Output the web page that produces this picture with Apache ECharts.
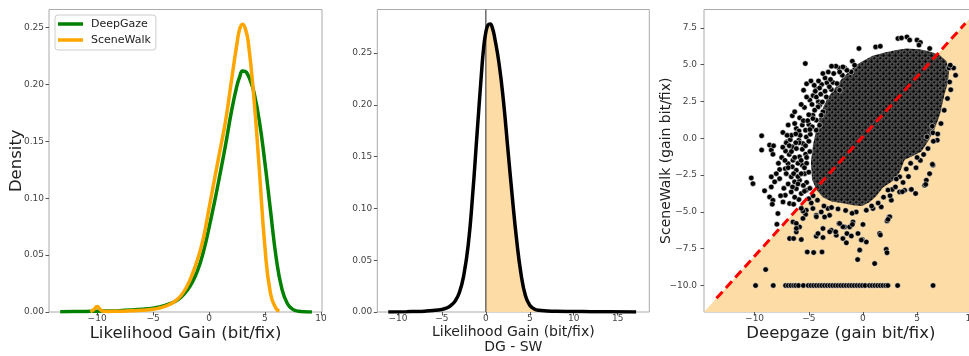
<!DOCTYPE html>
<html><head><meta charset="utf-8">
<script src="https://cdn.jsdelivr.net/npm/echarts@6/dist/echarts.min.js"></script>
<style>html,body{margin:0;padding:0;background:#fff}#c{width:969px;height:356px}</style>
</head><body><div id="c"></div>
<script>
// ---------- Panel 1: KDE of likelihood gain ----------
const dgX = [-13.3,-12,-11,-10,-9,-8,-7,-6,-5,-4.5,-4,-3.5,-3,-2.5,-2,-1.5,-1,-0.5,0,0.5,1,1.5,2,2.5,2.75,3,3.25,3.5,3.75,4,4.5,5,5.5,6,6.5,7,7.5,8,8.5,9.2];
const dgY = [0.0003,0.0004,0.0005,0.0007,0.0009,0.0012,0.0017,0.0024,0.0034,0.0043,0.0056,0.0073,0.0095,0.013,0.0185,0.026,0.037,0.053,0.074,0.097,0.122,0.148,0.176,0.199,0.207,0.212,0.2115,0.208,0.202,0.194,0.168,0.131,0.089,0.048,0.021,0.0075,0.0023,0.0007,0.0002,0];
const swX = [-10.6,-10.3,-10,-9.7,-9.4,-9,-8,-7,-6,-5,-4.5,-4,-3.5,-3,-2.5,-2,-1.5,-1,-0.5,0,0.5,1,1.5,2,2.5,2.75,3,3.25,3.5,4,4.5,5,5.5,6,6.3];
const swY = [0.0002,0.002,0.0048,0.002,0.0006,0.0005,0.0007,0.001,0.0015,0.0024,0.0033,0.0047,0.0068,0.0098,0.0145,0.022,0.033,0.047,0.065,0.091,0.117,0.143,0.169,0.203,0.236,0.249,0.253,0.249,0.238,0.19,0.125,0.057,0.016,0.003,0.001];
const p1XTicks = [-10,-5,0,5,10];
const p1YTicks = [0,0.05,0.1,0.15,0.2,0.25];

// ---------- Panel 2: KDE of DG - SW ----------
const diffX = [-11.1,-9,-8,-7,-6,-5,-4.5,-4,-3.5,-3,-2.5,-2,-1.5,-1,-0.5,-0.25,0,0.25,0.5,0.75,1,1.5,2,2.5,3,3.5,4,4.5,5,5.5,6,7,8,10,12,14,17.1];
const diffY = [0,0.0003,0.0005,0.0008,0.0014,0.0025,0.0037,0.0062,0.0105,0.019,0.036,0.065,0.113,0.172,0.23,0.255,0.27,0.277,0.278,0.274,0.265,0.24,0.204,0.158,0.112,0.07,0.037,0.016,0.0065,0.003,0.0016,0.001,0.0007,0.0005,0.0003,0.0002,0];
const p2XTicks = [-10,-5,0,5,10,15];
const p2YTicks = [0,0.05,0.1,0.15,0.2,0.25];
const zeroLineX = 0;

// ---------- Panel 3: scatter DeepGaze vs SceneWalk ----------
const p3XLim = [-14.67, 10.6];
const p3YLim = [-11.8, 8.75];
const diagX = [-13.52, 9.45];
const diagY = [-10.87, 7.81];
const p3XTicks = [-10,-5,0,5,10];
const p3YTicks = [-10,-7.5,-5,-2.5,0,2.5,5,7.5];
// outline of the densely packed core of the scatter cloud (DG, SW)
const coreX = [-3.3,-2.6,-1.9,-1.2,-0.6,0,0.9,2.1,3.1,4.0,5.2,6.2,7.1,7.7,7.95,7.85,7.5,7.1,6.6,6.1,5.4,4.6,3.85,3.4,2.75,1.85,1.2,0.6,-0.1,-0.9,-2.0,-2.9,-3.7,-4.3,-4.7,-4.8,-4.6,-4.3,-3.9];
const coreY = [2.7,3.4,4.1,4.6,5.0,5.25,5.6,5.85,6.0,6.1,6.05,5.9,5.65,5.25,4.6,3.8,2.9,1.6,0.6,-0.1,-0.9,-1.2,-1.45,-2.3,-2.9,-3.35,-3.95,-4.35,-4.6,-4.55,-4.4,-4.3,-4.0,-3.5,-2.8,-1.6,-0.4,0.6,1.7];
// individual points outside the core
const fringePts = [
[-5.32,5.08],[-5.48,3.27],[-4.30,3.34],[-3.81,3.66],[-3.32,3.77],[-2.77,3.79],[-4.0,3.42],
[-6.52,1.53],[-5.84,1.39],[-6.15,0.67],[-4.99,0.94],[-7.39,0.40],[-9.35,0.17],[-9.35,-0.80],
[-8.62,-0.46],[-8.46,-0.80],[-8.25,-0.51],[-8.31,-1.09],[-7.02,-0.24],[-7.14,-0.87],
[-4.12,2.48],[-4.0,2.25],[-4.62,1.57],[-3.69,1.8],
[-7.08,-0.31],[-6.71,-0.09],[-6.52,-0.58],[-6.15,-0.7],[-5.91,-0.13],[-5.54,-0.36],[-5.23,0.09],[-4.86,0.28],
[-5.29,-1.08],[-5.85,-1.26],[-6.46,-1.49],[-6.92,-1.72],[-7.17,-2.06],[-6.52,-1.94],[-6.15,-2.17],[-5.6,-1.83],
[-7.69,-2.12],[-8.0,-2.4],[-8.46,-2.62],[-8.15,-2.96],[-7.69,-2.74],[-7.08,-2.4],[-6.62,-2.62],[-6.31,-2.96],[-5.85,-2.85],[-5.38,-2.4],
[-10.31,-2.69],[-10.15,-3.08],[-9.08,-3.57],[-8.46,-3.3],[-8.62,-3.98],[-8.31,-4.21],[-8.37,-4.48],[-7.85,-5.11],[-7.38,-4.32],[-7.17,-3.87],[-6.62,-3.64],[-6.15,-3.42],[-5.69,-3.75],[-5.23,-3.53],
[-7.94,-5.84],[-6.77,-4.43],[-6.4,-4.48],[-5.91,-4.16],
[-6.46,-5.68],[-6.15,-6.36],[-5.85,-6.02],[-6.77,-6.81],[-6.4,-6.81],[-5.69,-6.88],[-5.14,-7.72],[-3.69,-6.74],[-4.31,-6.65],[-4.15,-6.47],[-3.69,-6.13],[-2.92,-6.25],[-2.46,-6.58],[-1.85,-6.81],[-1.48,-6.47],[-2.22,-5.79],[-1.69,-6.02],[-1.23,-6.02],[-0.92,-5.68],[-0.46,-6.47],[-0.06,-6.88],[0.31,-7.04],[-0.31,-7.6],[-0.49,-8.24],[1.08,-8.51],[1.54,-6.47],[2.22,-5.61],[2.4,-5.34],[2.15,-7.54],[-4.55,-7.76],[-3.78,-7.72],[-8.98,-8.92],
[-3.08,-5.23],[-3.54,-5.34],[-3.85,-5.0],[-3.23,-4.77],[-4.62,-4.77],[-4.31,-5.23],[-5.23,-4.89],[-4.77,-4.39],[-0.62,-5.0],[0.31,-4.89],[0.92,-4.77],[1.69,-4.66],[2.62,-4.21],[3.38,-3.64],[3.85,-3.53],[4.46,-3.48],[5.69,-3.19],[6.46,-1.83],[5.91,0.1],[6.46,0.37],[6.86,-0.13],[6.4,0.82],[4.86,-3.75],[6.15,-2.4],[5.85,-2.85],
[6.41,-1.77],[5.79,-3.13],[4.47,-3.47],[3.64,-3.63],[4.0,-2.09],[3.39,-2.62],[3.08,-2.77],[2.71,-3.47],[2.31,-3.52],[2.47,-5.33],[2.31,-5.51],[1.61,-6.57],[2.22,-7.77],[-0.3,-7.59],[-1.53,-7.1],[-1.07,-6.64],[-0.15,-6.91],[0,-5.85],[-0.98,-5.85],[-1.85,-6.01],[-2.15,-5.78],[-2.52,-6.35],[-3.07,-6.35],
[-5.29,-5.17],[-5.54,-4.94],[-5.69,-4.76],[-5.54,-5.44],[-6.15,-5.78],[-6.15,-6.12],[-4.3,-5.33],
[-0.37,6.1],[1.17,6.21],[1.6,6.25],[3.23,6.78],[3.55,6.82],[4.06,6.89],[4.31,6.67],[4.99,6.67],[5.30,6.51],[5.17,6.33],[6.16,6.1],[-2.22,4.78],[-1.69,4.78],[-1.90,4.29],[-0.98,5.24],[7.94,4.78],[8.37,4.78],[8.06,4.97],[8.55,4.28],[8.0,3.83],
[-1.08,4.51],[-0.77,4.97],[-1.48,4.62],[-1.85,4.85],[-2.15,4.51],[-2.4,3.72],[-2.15,3.27],[-2.92,3.31],[-3.38,2.81],[-3.75,2.47],[-4.15,2.13],[-4.46,1.91],[-3.85,1.57],[-4.31,1.23],[-4.68,0.78],[-4.31,0.55],[-4.0,0.89],[-4.62,1.34],
[-6.9,0.9],[-6.6,0.2],[-6.3,1.0],[-5.9,0.5],[-5.6,0.9],[-5.3,0.55],[-5.0,-0.2],[-5.6,-0.75],[-6.0,-1.7],[-6.8,-1.1],[-7.5,-1.3],[-7.4,-0.6],[-7.8,-1.7],[-5.2,-1.7],[-5.0,-2.3],[-5.2,-3.0],[-4.9,-3.4],[-5.5,-3.2],[-6.0,-2.6],[-6.9,-3.1],[-7.3,-3.4],[-7.6,-3.9],[-6.3,-4.0],[-5.0,-4.1],[-4.6,-3.9],[-4.2,-4.2],[-3.6,-4.6],[-2.9,-4.7],[-2.3,-4.8],[-1.6,-4.9],[-1.0,-5.1],
[-5.0,1.6],[-5.4,2.1],[-4.9,2.6],[-4.6,2.9],[-4.3,2.8],[-3.9,3.0],[-3.5,3.2],[-3.1,3.5],[-5.7,2.3],[-4.5,3.6],[-3.5,4.1],[-2.7,4.4],[-3.0,4.0],[-6.3,1.8],[-5.9,-0.3],[-4.9,-0.9],[-5.3,-0.5],
[4.2,-2.6],[3.7,-3.0],[3.0,-3.3],[2.5,-3.9],[1.9,-4.0],[1.4,-4.4],[0.8,-4.6],[4.9,-2.0],[5.3,-1.5],[5.6,-1.1],[6.0,-0.7],[6.5,-0.2],[6.9,0.3],[7.2,1.0],[7.5,1.9],[7.8,2.7],[8.1,3.3],[5.0,-1.3],[4.4,-1.7],
[-6.2,-0.3],[-5.8,0.2],[-5.5,1.2],[-5.1,1.2],[-5.7,-1.5],[-5.4,-2.0],[-5.7,-2.4],[-6.4,-2.4],[-6.9,-2.0],[-6.0,-3.1],[-5.4,-3.6],[-6.5,-3.3],[-4.9,0.6],[-5.2,-1.3],[-6.6,-0.9],[-6.3,-1.3],[-7.2,-1.5],[-6.2,0.3],[-7.0,0.2],[-6.8,-0.5],
[-4.7,2.3],[-5.2,2.8],[-4.4,3.2],[-4.1,3.9],[-3.7,4.4],[-3.2,4.5],[-2.5,4.9],[-2.9,4.9],[-5.2,3.7],[-4.8,3.9]
];
// points sitting at the SceneWalk floor value
const floorSW = -10;
const floorDG = [-9.91,-8.28,-7.14,-6.9,-6.65,-6.4,-6.2,-5.95,-5.5,-5.05,-4.8,-4.55,-4.3,-4.05,-3.8,-3.55,-3.3,-3.05,-2.8,-2.55,-2.3,-2.05,-1.8,-1.55,-1.3,-1.05,-0.8,-0.55,-0.3,-0.05,0.2,0.6,0.85,1.1,1.35,1.6,1.85,2.1,2.3,3.2,6.47];

// ---------- styling ----------
const FONT = 'DejaVu Sans';
const GREEN = '#008000', ORANGE = '#FFA500', FILL = '#FDDCA5';
const minus = s => String(s).replace('-', '\u2212');
const zip = (a, b) => a.map((v, i) => [v, b[i]]);

// pattern mimicking densely overlapping markers
const pat = document.createElement('canvas');
pat.width = 6; pat.height = 6;
(function(){
  const g = pat.getContext('2d');
  g.fillStyle = '#2c2c2c'; g.fillRect(0,0,6,6);
  g.lineWidth = 0.5; g.strokeStyle = '#8c8c8c'; g.fillStyle = '#070707';
  [[1.5,1.5],[4.5,4.5],[4.5,-1.5],[-1.5,4.5],[7.5,4.5],[4.5,7.5]].forEach(([x,y]) => { g.beginPath(); g.arc(x,y,1.9,0,Math.PI*2); g.fill(); g.stroke(); });
})();

function xAxisCfg(gi, min, max, ticks, name, gap, nameSize, fmt) {
  return {
    type: 'value', gridIndex: gi, min, max, splitLine: {show:false},
    axisLine: {show:false, onZero: false},
    axisTick: {show:true, customValues: ticks, length: 3.5, lineStyle: {color:'#555', width:1}},
    axisLabel: {customValues: ticks, margin: 2.5, fontFamily: FONT, fontSize: 9, color: '#444', formatter: fmt},
    name, nameLocation: 'middle', nameGap: gap, nameMoveOverlap: false,
    nameTextStyle: {fontFamily: FONT, fontSize: nameSize, color: '#222', lineHeight: nameSize + 1}
  };
}
function yAxisCfg(gi, min, max, ticks, name, gap, nameSize, fmt, margin) {
  return {
    type: 'value', gridIndex: gi, min, max, splitLine: {show:false},
    axisLine: {show:false, onZero: false},
    axisTick: {show:true, customValues: ticks, length: 3.5, lineStyle: {color:'#555', width:1}},
    axisLabel: {customValues: ticks, margin: margin, fontFamily: FONT, fontSize: 9, color: '#444', formatter: fmt},
    name, nameLocation: 'middle', nameGap: gap, nameMoveOverlap: false,
    nameTextStyle: {fontFamily: FONT, fontSize: nameSize, color: '#222'}
  };
}
const gridBase = {show: true, borderColor: '#aaaaaa', borderWidth: 1, backgroundColor: 'transparent', containLabel: false, outerBoundsMode: 'none'};

const chart = echarts.init(document.getElementById('c'), null, {renderer: 'canvas'});
chart.setOption({
  animation: false,
  backgroundColor: '#fff',
  grid: [
    Object.assign({left: 49, top: 9.5, width: 273, height: 302.5}, gridBase),
    Object.assign({left: 377.3, top: 9.5, width: 272, height: 302.5}, gridBase),
    Object.assign({left: 704, top: 9.5, width: 273.8, height: 302.5}, gridBase)
  ],
  legend: {
    data: [{name:'DeepGaze', icon:'rect'}, {name:'SceneWalk', icon:'rect'}],
    orient: 'vertical', left: 55, top: 15, itemWidth: 25, itemHeight: 3.5, itemGap: 2,
    padding: [2, 5, 3, 3], borderColor: '#cccccc', borderWidth: 1, borderRadius: 3, backgroundColor: '#fff',
    textStyle: {fontFamily: FONT, fontSize: 11, lineHeight: 14, color: '#222', padding: [0, 0, 0, 3]}
  },
  xAxis: [
    xAxisCfg(0, -14.3, 10.1, p1XTicks, 'Likelihood Gain (bit/fix)', 13, 16.5, v => minus(v)),
    xAxisCfg(1, -12.35, 18.6, p2XTicks, 'Likelihood Gain (bit/fix)\nDG - SW', 12.5, 14, v => minus(v)),
    xAxisCfg(2, p3XLim[0], p3XLim[1], p3XTicks, 'Deepgaze (gain bit/fix)', 13, 16.5, v => minus(v))
  ],
  yAxis: [
    yAxisCfg(0, 0, 0.266, p1YTicks, 'Density', 24, 16.5, v => minus(v.toFixed(2)), 5),
    yAxisCfg(1, 0, 0.292, p2YTicks, '', 20, 14, v => minus(v.toFixed(2)), 5),
    yAxisCfg(2, p3YLim[0], p3YLim[1], p3YTicks, 'SceneWalk (gain bit/fix)', 31, 14, v => minus(v.toFixed(1)), 7)
  ],
  series: [
    {name: 'DeepGaze', type: 'line', xAxisIndex: 0, yAxisIndex: 0, data: zip(dgX, dgY), showSymbol: false, symbol: 'none',
     smooth: 0.5, lineStyle: {color: GREEN, width: 3.5}, itemStyle: {color: GREEN}, z: 3},
    {name: 'SceneWalk', type: 'line', xAxisIndex: 0, yAxisIndex: 0, data: zip(swX, swY), showSymbol: false, symbol: 'none',
     smooth: 0.5, lineStyle: {color: ORANGE, width: 3.5}, itemStyle: {color: ORANGE}, z: 4},

    {type: 'line', xAxisIndex: 1, yAxisIndex: 1, data: zip(diffX, diffY).filter(p => p[0] >= zeroLineX), symbol: 'none',
     smooth: 0.5, lineStyle: {width: 0}, areaStyle: {color: FILL, opacity: 1}, z: 1},
    {type: 'line', xAxisIndex: 1, yAxisIndex: 1, data: [[zeroLineX, 0], [zeroLineX, 0.292]], symbol: 'none',
     lineStyle: {color: '#555', width: 1.3}, z: 2},
    {type: 'line', xAxisIndex: 1, yAxisIndex: 1, data: zip(diffX, diffY), symbol: 'none',
     smooth: 0.5, lineStyle: {color: '#000', width: 3.5}, z: 3},

    {type: 'line', xAxisIndex: 2, yAxisIndex: 2, data: zip(p3XLim, p3YLim), symbol: 'none',
     lineStyle: {width: 0}, areaStyle: {color: FILL, opacity: 1, origin: 'start'}, z: 1},
    {type: 'custom', xAxisIndex: 2, yAxisIndex: 2, data: [0], clip: true, z: 2,
     renderItem: (params, api) => ({
       type: 'polygon',
       shape: {points: coreX.map((x, i) => api.coord([x, coreY[i]]))},
       style: {fill: {image: pat, repeat: 'repeat'}, stroke: null}
     })},
    {type: 'scatter', xAxisIndex: 2, yAxisIndex: 2, data: fringePts.concat(floorDG.map(x => [x, floorSW])),
     symbol: 'circle', symbolSize: 5.5, itemStyle: {color: '#000', borderColor: '#fff', borderWidth: 0.5, opacity: 1}, z: 3},
    {type: 'line', xAxisIndex: 2, yAxisIndex: 2, data: zip(diagX, diagY), symbol: 'none',
     lineStyle: {color: '#ff0000', width: 3, type: [9, 5]}, z: 4}
  ]
});
</script></body></html>
